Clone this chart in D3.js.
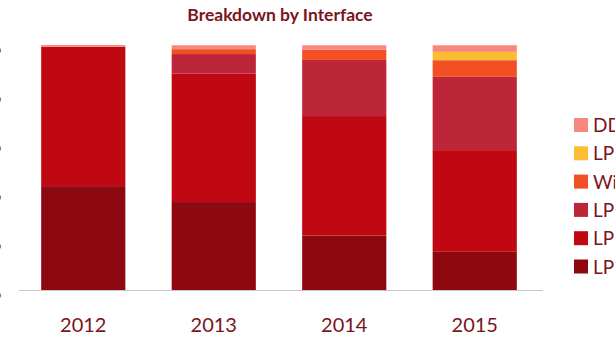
<!DOCTYPE html>
<html>
<head>
<meta charset="utf-8">
<script src="https://cdn.jsdelivr.net/npm/d3@7"></script>
<style>
  html, body { margin: 0; padding: 0; background: #fff; }
  svg { display: block; font-family: Lato, "Open Sans", sans-serif; }
</style>
</head>
<body>
<svg id="chart" width="615" height="344"></svg>
<script>
// data (share of each year, %)
var years = ['2012', '2013', '2014', '2015'];
var seriesNames = ['LPDDR', 'LPDDR2', 'LPDDR3', 'Wide I/O', 'LPDDR4', 'DDR']; // bottom -> top
var lpddr   = [42.4, 35.9, 22.2, 15.6];
var lpddr2  = [56.9, 52.4, 48.8, 41.5];
var lpddr3  = [0.0,  8.0,  22.9, 29.9];
var wideIo  = [0.0,  2.0,  4.2,  6.8];
var lpddr4  = [0.0,  0.0,  0.0,  3.4];
var ddr     = [0.7,  1.6,  1.8,  2.7];
var yTicks = [0, 20, 40, 60, 80, 100];

var colors = ['#8e0810', '#bf0812', '#bd2539', '#f24f25', '#fdbd32', '#f7877f'];
var textColor = '#7a1420';

var svg = d3.select('#chart'),
    plotLeft = 19, plotRight = 543, plotBase = 290, plotTop = 45;

var rows = years.map(function(y, i) {
  var r = { year: y };
  r[seriesNames[0]] = lpddr[i];
  r[seriesNames[1]] = lpddr2[i];
  r[seriesNames[2]] = lpddr3[i];
  r[seriesNames[3]] = wideIo[i];
  r[seriesNames[4]] = lpddr4[i];
  r[seriesNames[5]] = ddr[i];
  return r;
});

var x = d3.scaleBand().domain(years).range([plotLeft, plotRight - 4])
    .paddingInner(0.355).paddingOuter(0.17);
var y = d3.scaleLinear().domain([0, 100]).range([plotBase, plotTop]);

var stacked = d3.stack().keys(seriesNames)(rows);

// title
svg.append('text')
  .attr('x', 280).attr('y', 21)
  .attr('text-anchor', 'middle')
  .attr('font-size', 17.5).attr('font-weight', 'bold')
  .attr('fill', textColor)
  .text('Breakdown by Interface');

// bars
svg.append('g').selectAll('g')
  .data(stacked)
  .enter().append('g')
    .attr('fill', function(d, i) { return colors[i]; })
  .selectAll('rect')
  .data(function(d) { return d; })
  .enter().append('rect')
    .attr('x', function(d) { return x(d.data.year); })
    .attr('width', x.bandwidth())
    .attr('y', function(d) { return y(d[1]); })
    .attr('height', function(d) { return y(d[0]) - y(d[1]); });

// baseline
svg.append('line')
  .attr('x1', plotLeft).attr('x2', plotRight)
  .attr('y1', plotBase + 0.5).attr('y2', plotBase + 0.5)
  .attr('stroke', '#c8c8c8').attr('stroke-width', 1);

// y axis labels (mostly off the left edge)
var yAxis = d3.axisLeft(y).tickValues(yTicks)
    .tickFormat(function(d) { return d + '%'; })
    .tickSize(0).tickPadding(0);
var gy = svg.append('g').attr('transform', 'translate(1.5,2)').call(yAxis);
gy.select('.domain').remove();
gy.selectAll('text').attr('fill', textColor).attr('font-size', 20)
  .attr('font-family', 'Lato, sans-serif');

// x axis labels
var xAxis = d3.axisBottom(x).tickSize(0).tickPadding(0);
var gx = svg.append('g').attr('transform', 'translate(0,' + (plotBase + 28) + ')').call(xAxis);
gx.select('.domain').remove();
gx.selectAll('text').attr('fill', textColor).attr('font-size', 20)
  .attr('font-family', 'Lato, sans-serif');

// legend (top -> bottom, cut by the right edge)
var legendNames = seriesNames.slice().reverse();
var legendColors = colors.slice().reverse();
var lg = svg.append('g').selectAll('g')
  .data(legendNames)
  .enter().append('g')
    .attr('transform', function(d, i) { return 'translate(574,' + (125 + i * 28.3) + ')'; });
lg.append('rect')
  .attr('x', 0).attr('y', -7).attr('width', 14).attr('height', 14)
  .attr('fill', function(d, i) { return legendColors[i]; });
lg.append('text')
  .attr('x', 19).attr('y', 7)
  .attr('font-size', 19).attr('fill', textColor)
  .text(function(d) { return d; });
</script>
</body>
</html>
